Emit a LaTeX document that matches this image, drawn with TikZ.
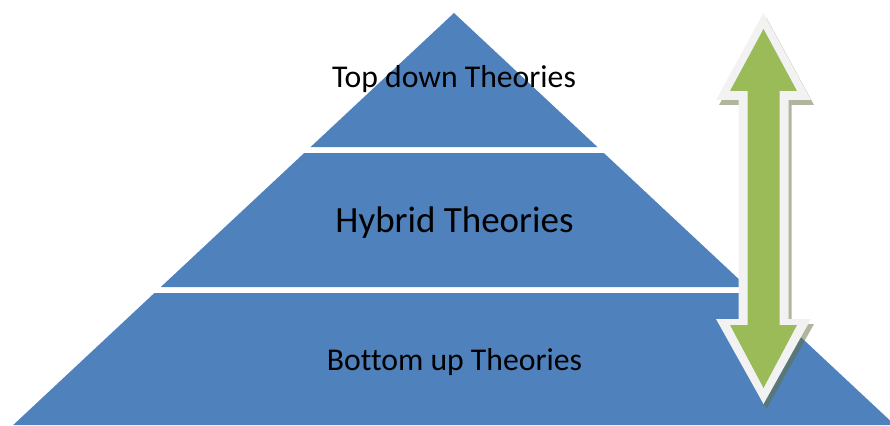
\documentclass[tikz,border=0pt]{standalone}
\usepackage{fontspec}
\setmainfont[RawFeature={-liga}]{Carlito}
\definecolor{tierblue}{RGB}{79,129,189}
\definecolor{arrowgreen}{RGB}{155,187,89}
\definecolor{rim}{RGB}{242,242,242}
\definecolor{shade}{RGB}{95,110,60}
\begin{document}
\begin{tikzpicture}[x=1pt,y=-1pt,
  tier/.style={fill=tierblue, draw=none},
  tierlabel/.style={anchor=base, text=black, inner sep=0pt},
  arrowrim/.style={fill=rim, draw=none},
  arrowbody/.style={fill=arrowgreen, draw=none},
  arrowshadow/.style={fill=shade, fill opacity=0.5, draw=none}]
\useasboundingbox (0,0) rectangle (890,425);
\clip (0,0) rectangle (890,425);
% pyramid tiers
\fill[tier] (454,13) -- (310.6,147) -- (597.4,147) -- cycle;
\fill[tier] (304.2,153) -- (603.8,153) -- (747.2,287) -- (160.8,287) -- cycle;
\fill[tier] (154.4,293) -- (753.6,293) -- (894.8,425) -- (13.2,425) -- cycle;
% labels
\node[tierlabel, font=\fontsize{31.7}{36}\selectfont] (top) at (454,88) {Top down Theories};
\node[tierlabel, font=\fontsize{37}{42}\selectfont] (hybrid) at (454.5,232) {Hybrid Theories};
\node[tierlabel, font=\fontsize{31.7}{36}\selectfont] (bottom) at (454.5,370) {Bottom up Theories};
% double arrow
\begin{scope}[shift={(3,5)}]
\fill[arrowshadow] (763.5,13) -- (811,100) -- (788.5,100) -- (788.5,319) -- (811,319)
  -- (763.5,404) -- (716,319) -- (738.5,319) -- (738.5,100) -- (716,100) -- cycle;
\end{scope}
\fill[arrowrim] (763.5,13) -- (811,100) -- (788.5,100) -- (788.5,319) -- (811,319)
  -- (763.5,404) -- (716,319) -- (738.5,319) -- (738.5,100) -- (716,100) -- cycle;
\fill[arrowbody] (763.5,29) -- (797,91) -- (779.5,91) -- (779.5,325) -- (797,325)
  -- (763.5,388) -- (730,325) -- (747.5,325) -- (747.5,91) -- (730,91) -- cycle;
\end{tikzpicture}
\end{document}
